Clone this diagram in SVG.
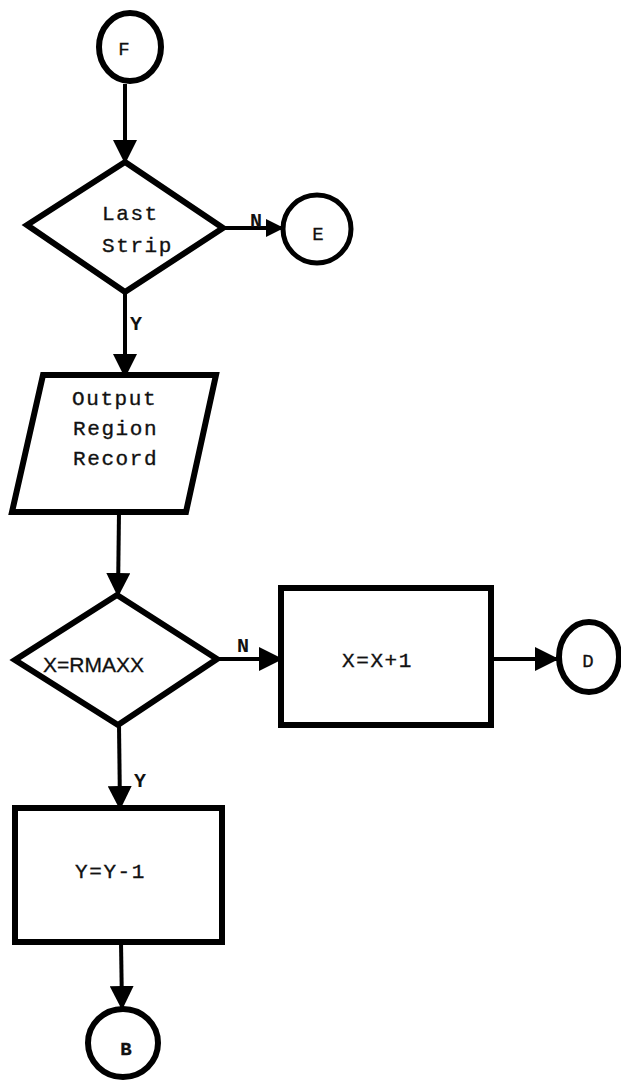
<svg xmlns="http://www.w3.org/2000/svg" width="621" height="1082" viewBox="0 0 621 1082">
<style>
.shape{fill:none;stroke:#000;stroke-width:6;stroke-linejoin:miter}
.conn{fill:none;stroke:#000;stroke-width:4}
.txt{font-family:"Liberation Mono","Courier New",monospace;font-size:21px;letter-spacing:1.6px;fill:#111;stroke:#111;stroke-width:0.35}
.ctr{font-family:"Liberation Mono","Courier New",monospace;font-size:19px;fill:#111;stroke:#111;stroke-width:0.3;text-anchor:middle}
.lbl{font-family:"Liberation Mono","Courier New",monospace;font-size:20px;font-weight:bold;fill:#111}
</style>
<defs>
<marker id="ah" markerWidth="24" markerHeight="24" viewBox="0 0 24 24" refX="22" refY="12" orient="auto" markerUnits="userSpaceOnUse">
<path d="M0,0 L24,12 L0,24 Z" fill="#000"/>
</marker>
<marker id="ahs" markerWidth="18" markerHeight="18" viewBox="0 0 18 18" refX="16" refY="9" orient="auto" markerUnits="userSpaceOnUse">
<path d="M0,0 L18,9 L0,18 Z" fill="#000"/>
</marker>
</defs>
<rect width="621" height="1082" fill="#fff"/>
<g id="connectors">
<line class="conn" x1="125" y1="84" x2="125" y2="162" marker-end="url(#ah)"/>
<line class="conn" x1="223" y1="228" x2="282" y2="228" marker-end="url(#ahs)"/>
<line class="conn" x1="125" y1="292" x2="125" y2="376" marker-end="url(#ah)"/>
<line class="conn" x1="119" y1="512" x2="118" y2="595" marker-end="url(#ah)"/>
<line class="conn" x1="217" y1="659" x2="281" y2="659" marker-end="url(#ah)"/>
<line class="conn" x1="491" y1="659" x2="557" y2="659" marker-end="url(#ah)"/>
<line class="conn" x1="119" y1="725" x2="120" y2="808" marker-end="url(#ah)"/>
<line class="conn" x1="121" y1="942" x2="122" y2="1008" marker-end="url(#ah)"/>
<text class="lbl" x="250" y="227">N</text>
<text class="lbl" x="130" y="330">Y</text>
<text class="lbl" x="237" y="652">N</text>
<text class="lbl" x="134" y="787">Y</text>
</g>
<g id="F">
<ellipse class="shape" cx="130" cy="47" rx="31" ry="34"/>
<text class="ctr" x="124" y="55">F</text>
</g>
<g id="last-strip">
<polygon class="shape" points="125,162 223,228 125,292 27,225"/>
<text class="txt" x="102" y="220">Last</text>
<text class="txt" x="102" y="252">Strip</text>
</g>
<g id="E">
<ellipse class="shape" cx="317" cy="229" rx="34" ry="34" style="stroke-width:5"/>
<text class="ctr" x="318" y="240">E</text>
</g>
<g id="output-region-record">
<polygon class="shape" points="43,375 216,375 186,512 12,512"/>
<text class="txt" x="72" y="405">Output</text>
<text class="txt" x="73" y="435">Region</text>
<text class="txt" x="73" y="465">Record</text>
</g>
<g id="x-rmaxx">
<polygon class="shape" points="117,595 217,659 118,725 15,660"/>
<text x="43" y="672" style="font-family:'Liberation Sans',Arial,sans-serif;font-size:21px;fill:#111;stroke:#111;stroke-width:0.3">X=RMAXX</text>
</g>
<g id="x-inc">
<rect class="shape" x="281" y="588" width="210" height="137"/>
<text class="txt" x="342" y="667">X=X+1</text>
</g>
<g id="D">
<ellipse class="shape" cx="589" cy="657" rx="30" ry="35"/>
<text class="ctr" x="588" y="667">D</text>
</g>
<g id="y-dec">
<rect class="shape" x="15" y="808" width="207" height="134"/>
<text class="txt" x="75" y="878">Y=Y-1</text>
</g>
<g id="B">
<ellipse class="shape" cx="123" cy="1043" rx="35" ry="34"/>
<text class="ctr" x="126" y="1055" style="font-weight:bold">B</text>
</g>
</svg>
